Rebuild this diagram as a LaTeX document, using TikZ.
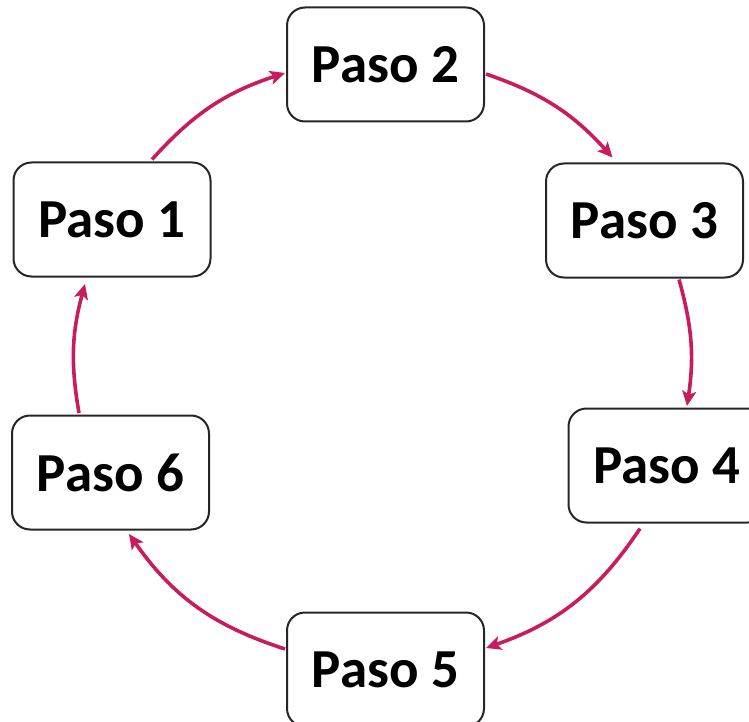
\documentclass[tikz,border=0pt]{standalone}
\usepackage{fontspec}
\setmainfont{Carlito}
\usetikzlibrary{arrows.meta}
\definecolor{cyclecol}{RGB}{200,28,94}
\definecolor{boxline}{RGB}{38,38,38}
\tikzset{
  stepbox/.style={draw=boxline, line width=2pt, rounded corners=18pt, fill=white,
    minimum width=197pt, minimum height=114pt, inner sep=0pt,
    font=\fontsize{55}{60}\selectfont\bfseries},
  cyc/.style={draw=cyclecol, line width=3.6pt,
    -{Stealth[length=15pt,width=14pt,inset=3.5pt]}}
}
\begin{document}
\begin{tikzpicture}[x=1pt,y=1pt]
  \useasboundingbox (0,0) rectangle (749,-722);
  \clip (0,0) rectangle (749,-722);

  % the six steps around the cycle
  \node[stepbox] (p1) at (112,-219.5) {Paso 1};
  \node[stepbox] (p2) at (385.5,-64.5) {Paso 2};
  \node[stepbox] (p3) at (644.5,-220.5) {Paso 3};
  \node[stepbox] (p4) at (667,-465.5) {Paso 4};
  \node[stepbox] (p5) at (385.5,-669.5) {Paso 5};
  \node[stepbox] (p6) at (110.5,-472.5) {Paso 6};

  % clockwise arcs joining consecutive steps
  \draw[cyc] ([xshift=40pt,yshift=2pt]p1.north) to[bend left=15] ([xshift=-1pt,yshift=-8.5pt]p2.west);
  \draw[cyc] ([xshift=1pt,yshift=-9.5pt]p2.east) to[bend left=14.5] ([xshift=-32pt,yshift=5pt]p3.north);
  \draw[cyc] ([xshift=34.5pt,yshift=-1pt]p3.south) to[bend left=12] ([xshift=20pt,yshift=1.5pt]p4.north);
  \draw[cyc] ([xshift=-27pt,yshift=-5pt]p4.south) to[bend left=18.5] ([xshift=1pt,yshift=21.5pt]p5.east);
  \draw[cyc] ([xshift=-1pt,yshift=20.5pt]p5.west) to[bend left=18.5] ([xshift=18.5pt,yshift=-3.5pt]p6.south);
  \draw[cyc] ([xshift=-31.5pt,yshift=1.5pt]p6.north) to[bend left=12.5] ([xshift=-27pt,yshift=-6.5pt]p1.south);
\end{tikzpicture}
\end{document}
